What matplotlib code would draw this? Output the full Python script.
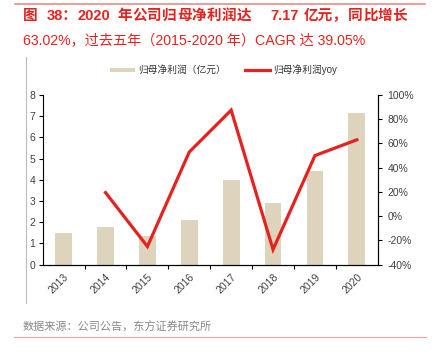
import matplotlib.pyplot as plt
from matplotlib.lines import Line2D
from matplotlib.patches import Patch

plt.rcParams['font.family'] = ['Liberation Sans', 'Noto Sans CJK SC', 'DejaVu Sans']

# 数据
years = ['2013', '2014', '2015', '2016', '2017', '2018', '2019', '2020']
profit = [1.50, 1.80, 1.33, 2.10, 4.00, 2.90, 4.40, 7.17]      # 归母净利润（亿元）
yoy = [None, 19.5, -25.0, 53.0, 87.5, -27.5, 50.0, 63.02]       # 同比 %

bar_color = '#DED4BD'
line_color = '#E42320'
tick_color = '#404040'

fig = plt.figure(figsize=(4.34, 3.59), dpi=100)
ax = fig.add_axes([0.0984, 0.2627, 0.772, 0.4727])

x = list(range(len(years)))
ax.bar(x, profit, width=0.4, color=bar_color, zorder=1)
ax.set_xlim(-0.5, len(years) - 0.5)
ax.set_ylim(0, 8)
ax.set_yticks(range(0, 9))
ax.set_xticks([i + 0.5 for i in x[:-1]], minor=False)
ax.set_xticklabels([])
ax.set_xticks(x, minor=True)
ax.set_xticklabels(years, minor=True, rotation=45, ha='right', rotation_mode='anchor',
                   fontsize=7.5, color=tick_color)
ax.tick_params(axis='x', which='major', direction='out', length=3, width=0.8)
ax.tick_params(axis='x', which='minor', length=0, pad=5)
ax.tick_params(axis='y', direction='out', length=3, width=0.8, labelsize=7.5,
               labelcolor=tick_color, pad=2.5)
ax.spines['top'].set_visible(False)

ax2 = ax.twinx()
xs = [i for i, v in zip(x, yoy) if v is not None]
ys = [v for v in yoy if v is not None]
ax2.plot(xs, ys, color=line_color, linewidth=2.3, solid_joinstyle='miter', zorder=3)
ax2.set_ylim(-40, 100)
ax2.set_yticks(range(-40, 101, 20))
ax2.set_yticklabels([f'{v}%' for v in range(-40, 101, 20)])
ax2.tick_params(axis='y', direction='out', length=3, width=0.8, labelsize=7.5,
                labelcolor=tick_color, pad=4)
ax2.spines['top'].set_visible(False)
ax2.spines['left'].set_visible(False)

# 图例
handles = [Patch(facecolor=bar_color, edgecolor='none'),
           Line2D([0], [0], color=line_color, linewidth=2.3)]
fig.legend(handles, ['归母净利润（亿元）', '归母净利润yoy'], loc='center',
           bbox_to_anchor=(0.515, 0.805), ncol=2, frameon=False, fontsize=7,
           handlelength=2.6, handleheight=0.35, columnspacing=2.0, handletextpad=0.3,
           labelcolor='#333333')

# 标题（第一行两端对齐，逐段放置）
title_color = '#E42320'
W = 434.0
line1 = [(23, '图'), (47, '38：'), (78, '2020')]
line1 += [(117 + 15 * i, c) for i, c in enumerate('年公司归母净利润达')]
line1 += [(270, '7.17'), (304, '亿元，')]
line1 += [(348 + 14.8 * i, c) for i, c in enumerate('同比增长')]
for px, s in line1:
    fig.text(px / W, 0.955, s, fontsize=10.5, color=title_color, fontweight='bold',
             va='center', ha='left')
fig.text(23 / W, 0.888, '63.02%，过去五年（2015-2020 年）CAGR 达 39.05%',
         fontsize=10.2, color=title_color, va='center', ha='left')

# 上下分隔线与左侧竖线
fig.add_artist(Line2D([0.035, 0.98], [0.99, 0.99], color='#E88C8C', linewidth=1.2))
fig.add_artist(Line2D([0.032, 0.982], [0.061, 0.061], color='#F0A0A0', linewidth=0.8))
fig.add_artist(Line2D([0.06, 0.06], [0.155, 0.842], color='#BBBBBB', linewidth=0.8))

# 数据来源
fig.text(0.053, 0.087, '数据来源：公司公告，东方证券研究所', fontsize=8, color='#888888',
         va='center', ha='left')

plt.savefig('out.png', dpi=100)
